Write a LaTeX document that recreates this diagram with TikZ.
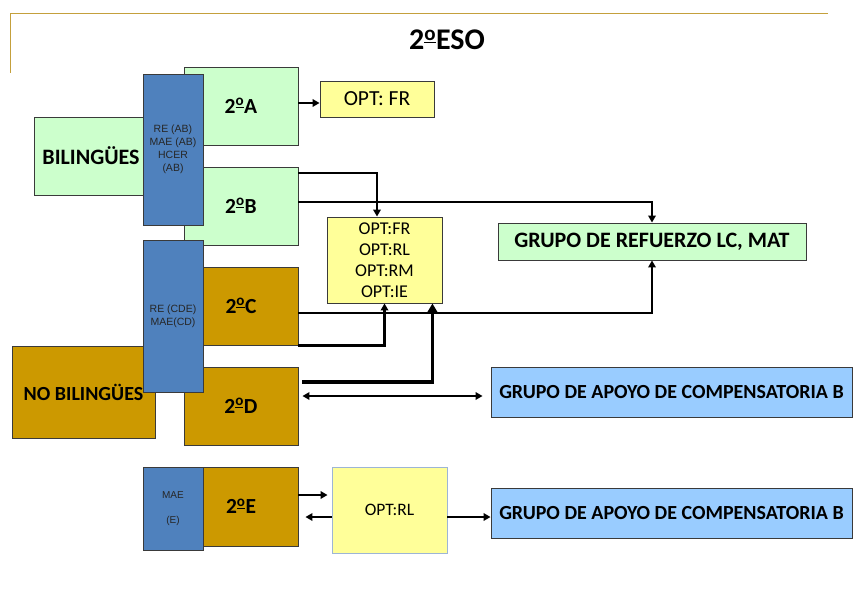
\documentclass[tikz,border=0pt]{standalone}
\usepackage{fontspec}
\setmainfont{Carlito}
\newfontfamily\arialf{Liberation Sans}
\usetikzlibrary{arrows.meta,calc}
\definecolor{gfill}{HTML}{CCFFCC}
\definecolor{ofill}{HTML}{CC9900}
\definecolor{bfill}{HTML}{4F81BD}
\definecolor{yfill}{HTML}{FFFF99}
\definecolor{lbfill}{HTML}{99CCFF}
\definecolor{bordc}{HTML}{3A3A3A}
\definecolor{goldline}{RGB}{196,160,60}
\definecolor{rlborder}{HTML}{9DB5D5}
\newcommand\ordo{\textsuperscript{\underline{o}}}
\begin{document}
\begin{tikzpicture}[x=1pt,y=-1pt,
  box/.style={draw=bordc, line width=0.9pt, inner sep=0pt, align=center},
  greenbox/.style={box, fill=gfill},
  goldbox/.style={box, fill=ofill},
  bluebox/.style={box, fill=bfill, minimum width=60pt, font=\arialf\fontsize{10.5}{13}\selectfont, text=black!85},
  yellowbox/.style={box, fill=yfill},
  apoyo/.style={box, fill=lbfill, minimum width=361pt, minimum height=50pt, font=\fontsize{20}{24}\selectfont\bfseries},
  clase/.style={minimum width=114pt, minimum height=78pt, font=\fontsize{21.5}{24}\selectfont\bfseries},
  conn/.style={line width=2.1pt, -{Triangle[length=7pt,width=7.5pt]}},
  connb/.style={line width=2.1pt, {Triangle[length=7pt,width=7.5pt]}-{Triangle[length=7pt,width=7.5pt]}},
  thickconn/.style={line width=3.8pt, -{Triangle[length=10pt,width=11pt]}}
]
\useasboundingbox (0,0) rectangle (853,597);
% frame line
\draw[goldline, line width=1pt] (828,13) -- (10,13) -- (10,73);
\node (title) at (447,40) {\fontsize{30}{36}\selectfont\bfseries 2\ordo ESO};

% group boxes
\node[greenbox, minimum width=114pt, minimum height=78pt, font=\fontsize{22}{24}\selectfont\bfseries] (bil) at (91,156) {BILINGÜES};
\node[goldbox, minimum width=143pt, minimum height=92pt, font=\fontsize{20}{24}\selectfont\bfseries] (nobil) at (83.5,392) {NO BILINGÜES};

% classes
\node[greenbox, clase] (A) at (241,106) {2\ordo A};
\node[greenbox, clase] (B) at (241,206) {2\ordo B};
\node[goldbox, clase] (C) at (241,306) {2\ordo C};
\node[goldbox, clase] (D) at (241,406) {2\ordo D};
\node[goldbox, clase, minimum height=79pt] (E) at (241,506.5) {2\ordo E};

% blue boxes
\node[bluebox, minimum height=151pt] (blue1) at (173,149.5) {RE (AB)\\MAE (AB)\\HCER\\(AB)};
\node[bluebox, minimum height=152pt] (blue2) at (173,316) {RE (CDE)\\MAE(CD)};
\node[bluebox, minimum height=83pt, font=\arialf\fontsize{10}{13}\selectfont] (blue3) at (173,508.5) {MAE\\[12pt](E)};

% options
\node[yellowbox, minimum width=114pt, minimum height=36pt, font=\fontsize{21.5}{24}\selectfont] (optfr) at (377,99) {OPT: FR};
\node[yellowbox, minimum width=115pt, minimum height=86pt, font=\fontsize{18}{21}\selectfont] (optm) at (384.5,260) {OPT:FR\\OPT:RL\\OPT:RM\\OPT:IE};
\node[yellowbox, draw=rlborder, minimum width=115pt, minimum height=86pt, font=\fontsize{17.5}{20}\selectfont] (optrl) at (389.5,510) {\raisebox{-7pt}{OPT:RL}};

% groups
\node[greenbox, minimum width=308pt, minimum height=37pt, font=\fontsize{22}{24}\selectfont\bfseries] (ref) at (652,241.5) {GRUPO DE REFUERZO LC, MAT};
\node[apoyo] (ap1) at (671.5,392) {GRUPO DE APOYO DE COMPENSATORIA B};
\node[apoyo] (ap2) at (671.5,513) {GRUPO DE APOYO DE COMPENSATORIA B};

% connectors
\draw[conn] ($(A.east)+(0,-3)$) -- ($(optfr.west)+(0,4)$);
\draw[conn] ($(B.north east)+(0,6)$) -| ($(optm.north)+(-7.5,0)$);
\draw[conn] ($(B.east)+(0,-4)$) -| (ref.north);
\draw[conn] ($(C.east)+(0,7)$) -| (ref.south);
\draw[conn] (C.south east) -| (optm.south);
\draw[thickconn] ($(D.east)+(4,-24)$) -| ($(optm.south east)+(-10,0)$);
\draw[connb] ($(D.east)+(4,-10)$) -- ($(ap1.west)+(-8,4)$);
\draw[conn] ($(E.east)+(0,-11.5)$) -- ($(optrl.west)+(-4,-15)$);
\draw[conn] ($(optrl.west)+(0,7)$) -- ($(E.east)+(7,10.5)$);
\draw[conn] ($(optrl.east)+(0,7)$) -- ($(ap2.west)+(0,4)$);
\end{tikzpicture}
\end{document}
